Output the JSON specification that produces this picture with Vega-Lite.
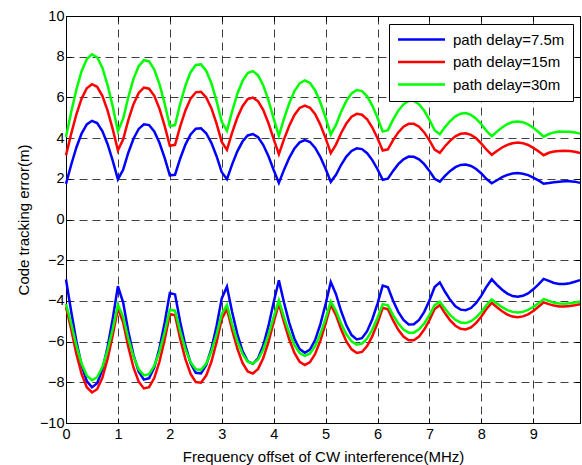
{
  "$schema": "https://vega.github.io/schema/vega-lite/v6.json",
  "width": 514,
  "height": 407,
  "autosize": "none",
  "padding": {"left": 66, "top": 16, "right": 2, "bottom": 42},
  "background": "white",
  "config": {
    "view": {"stroke": "black", "strokeWidth": 1},
    "axis": {
      "labelFont": "Liberation Sans", "labelFontSize": 14.5, "labelColor": "black", "labelFlush": false,
      "titleFont": "Liberation Sans", "titleFontSize": 15, "titleFontWeight": "normal", "titleColor": "black",
      "domainColor": "black", "tickColor": "black", "tickSize": -5,
      "gridColor": "black", "gridDash": [8, 5], "gridOpacity": 0.75, "gridWidth": 1
    },
    "axisX": {"labelPadding": 9},
    "axisY": {"labelPadding": 7},
    "legend": {"labelFont": "Liberation Sans"}
  },
  "data": {"values": [
{"x":0.0,"ub":1.75,"ur":3.15,"ug":4.05,"lb":-2.95,"lr":-4.3,"lg":-4.15},
{"x":0.1,"ub":2.69,"ur":4.21,"ug":5.28,"lb":-4.52,"lr":-5.39,"lg":-5.11},
{"x":0.2,"ub":3.54,"ur":5.17,"ug":6.39,"lb":-5.98,"lr":-6.61,"lg":-6.20},
{"x":0.3,"ub":4.22,"ur":5.94,"ug":7.29,"lb":-7.16,"lr":-7.59,"lg":-7.08},
{"x":0.4,"ub":4.67,"ur":6.45,"ug":7.88,"lb":-7.94,"lr":-8.24,"lg":-7.67},
{"x":0.5,"ub":4.85,"ur":6.65,"ug":8.12,"lb":-8.25,"lr":-8.50,"lg":-7.90},
{"x":0.6,"ub":4.74,"ur":6.52,"ug":7.97,"lb":-8.05,"lr":-8.34,"lg":-7.75},
{"x":0.7,"ub":4.35,"ur":6.08,"ug":7.46,"lb":-7.38,"lr":-7.78,"lg":-7.25},
{"x":0.8,"ub":3.71,"ur":5.36,"ug":6.62,"lb":-6.28,"lr":-6.86,"lg":-6.43},
{"x":0.9,"ub":2.89,"ur":4.44,"ug":5.55,"lb":-4.87,"lr":-5.69,"lg":-5.38},
{"x":1.0,"ub":1.97,"ur":3.40,"ug":4.34,"lb":-3.28,"lr":-4.37,"lg":-4.18},
{"x":1.1,"ub":2.44,"ur":3.93,"ug":4.94,"lb":-4.07,"lr":-5.05,"lg":-4.78},
{"x":1.2,"ub":3.28,"ur":4.88,"ug":6.01,"lb":-5.49,"lr":-6.26,"lg":-5.85},
{"x":1.3,"ub":3.97,"ur":5.67,"ug":6.91,"lb":-6.66,"lr":-7.27,"lg":-6.74},
{"x":1.4,"ub":4.45,"ur":6.22,"ug":7.53,"lb":-7.48,"lr":-7.97,"lg":-7.36},
{"x":1.5,"ub":4.68,"ur":6.48,"ug":7.83,"lb":-7.87,"lr":-8.30,"lg":-7.66},
{"x":1.6,"ub":4.64,"ur":6.43,"ug":7.77,"lb":-7.80,"lr":-8.24,"lg":-7.60},
{"x":1.7,"ub":4.33,"ur":6.08,"ug":7.37,"lb":-7.27,"lr":-7.79,"lg":-7.20},
{"x":1.8,"ub":3.77,"ur":5.45,"ug":6.65,"lb":-6.33,"lr":-6.98,"lg":-6.49},
{"x":1.9,"ub":3.03,"ur":4.60,"ug":5.70,"lb":-5.07,"lr":-5.91,"lg":-5.54},
{"x":2.0,"ub":2.17,"ur":3.62,"ug":4.59,"lb":-3.61,"lr":-4.65,"lg":-4.43},
{"x":2.1,"ub":2.20,"ur":3.67,"ug":4.64,"lb":-3.68,"lr":-4.71,"lg":-4.48},
{"x":2.2,"ub":3.00,"ur":4.58,"ug":5.69,"lb":-5.04,"lr":-5.87,"lg":-5.50},
{"x":2.3,"ub":3.68,"ur":5.36,"ug":6.58,"lb":-6.20,"lr":-6.86,"lg":-6.37},
{"x":2.4,"ub":4.18,"ur":5.94,"ug":7.24,"lb":-7.06,"lr":-7.59,"lg":-7.02},
{"x":2.5,"ub":4.46,"ur":6.25,"ug":7.59,"lb":-7.53,"lr":-7.99,"lg":-7.36},
{"x":2.6,"ub":4.48,"ur":6.28,"ug":7.62,"lb":-7.56,"lr":-8.02,"lg":-7.39},
{"x":2.7,"ub":4.24,"ur":6.00,"ug":7.31,"lb":-7.16,"lr":-7.67,"lg":-7.09},
{"x":2.8,"ub":3.77,"ur":5.47,"ug":6.70,"lb":-6.36,"lr":-6.99,"lg":-6.49},
{"x":2.9,"ub":3.11,"ur":4.71,"ug":5.83,"lb":-5.23,"lr":-6.03,"lg":-5.64},
{"x":3.0,"ub":2.32,"ur":3.81,"ug":4.80,"lb":-3.88,"lr":-4.89,"lg":-4.64},
{"x":3.1,"ub":1.98,"ur":3.42,"ug":4.36,"lb":-3.30,"lr":-4.39,"lg":-4.20},
{"x":3.2,"ub":2.71,"ur":4.27,"ug":5.32,"lb":-4.55,"lr":-5.43,"lg":-5.15},
{"x":3.3,"ub":3.35,"ur":5.01,"ug":6.17,"lb":-5.63,"lr":-6.35,"lg":-5.98},
{"x":3.4,"ub":3.83,"ur":5.57,"ug":6.81,"lb":-6.47,"lr":-7.05,"lg":-6.61},
{"x":3.5,"ub":4.13,"ur":5.92,"ug":7.20,"lb":-6.97,"lr":-7.47,"lg":-6.99},
{"x":3.6,"ub":4.20,"ur":5.99,"ug":7.29,"lb":-7.09,"lr":-7.57,"lg":-7.08},
{"x":3.7,"ub":4.04,"ur":5.81,"ug":7.08,"lb":-6.82,"lr":-7.34,"lg":-6.88},
{"x":3.8,"ub":3.66,"ur":5.38,"ug":6.59,"lb":-6.18,"lr":-6.81,"lg":-6.39},
{"x":3.9,"ub":3.11,"ur":4.73,"ug":5.85,"lb":-5.23,"lr":-6.01,"lg":-5.67},
{"x":4.0,"ub":2.43,"ur":3.95,"ug":4.96,"lb":-4.07,"lr":-5.04,"lg":-4.79},
{"x":4.1,"ub":1.80,"ur":3.21,"ug":4.12,"lb":-2.99,"lr":-4.13,"lg":-3.97},
{"x":4.2,"ub":2.45,"ur":3.95,"ug":4.96,"lb":-4.09,"lr":-5.06,"lg":-4.81},
{"x":4.3,"ub":3.03,"ur":4.61,"ug":5.71,"lb":-5.08,"lr":-5.90,"lg":-5.57},
{"x":4.4,"ub":3.49,"ur":5.14,"ug":6.31,"lb":-5.86,"lr":-6.56,"lg":-6.17},
{"x":4.5,"ub":3.79,"ur":5.48,"ug":6.69,"lb":-6.37,"lr":-7.00,"lg":-6.56},
{"x":4.6,"ub":3.90,"ur":5.60,"ug":6.83,"lb":-6.55,"lr":-7.15,"lg":-6.70},
{"x":4.7,"ub":3.81,"ur":5.49,"ug":6.71,"lb":-6.39,"lr":-7.01,"lg":-6.58},
{"x":4.8,"ub":3.52,"ur":5.17,"ug":6.34,"lb":-5.91,"lr":-6.60,"lg":-6.21},
{"x":4.9,"ub":3.07,"ur":4.65,"ug":5.75,"lb":-5.14,"lr":-5.95,"lg":-5.62},
{"x":5.0,"ub":2.49,"ur":4.00,"ug":5.01,"lb":-4.16,"lr":-5.12,"lg":-4.87},
{"x":5.1,"ub":1.85,"ur":3.26,"ug":4.18,"lb":-3.07,"lr":-4.19,"lg":-4.03},
{"x":5.2,"ub":2.20,"ur":3.68,"ug":4.65,"lb":-3.67,"lr":-4.70,"lg":-4.48},
{"x":5.3,"ub":2.69,"ur":4.25,"ug":5.30,"lb":-4.51,"lr":-5.41,"lg":-5.12},
{"x":5.4,"ub":3.09,"ur":4.72,"ug":5.83,"lb":-5.20,"lr":-5.99,"lg":-5.64},
{"x":5.5,"ub":3.37,"ur":5.05,"ug":6.20,"lb":-5.68,"lr":-6.38,"lg":-5.99},
{"x":5.6,"ub":3.50,"ur":5.19,"ug":6.36,"lb":-5.89,"lr":-6.56,"lg":-6.15},
{"x":5.7,"ub":3.46,"ur":5.15,"ug":6.31,"lb":-5.83,"lr":-6.51,"lg":-6.10},
{"x":5.8,"ub":3.26,"ur":4.92,"ug":6.05,"lb":-5.49,"lr":-6.22,"lg":-5.85},
{"x":5.9,"ub":2.92,"ur":4.52,"ug":5.60,"lb":-4.90,"lr":-5.73,"lg":-5.41},
{"x":6.0,"ub":2.47,"ur":3.99,"ug":5.00,"lb":-4.13,"lr":-5.09,"lg":-4.83},
{"x":6.1,"ub":1.95,"ur":3.39,"ug":4.32,"lb":-3.25,"lr":-4.34,"lg":-4.16},
{"x":6.2,"ub":2.01,"ur":3.45,"ug":4.39,"lb":-3.33,"lr":-4.41,"lg":-4.22},
{"x":6.3,"ub":2.39,"ur":3.90,"ug":4.91,"lb":-3.99,"lr":-4.96,"lg":-4.70},
{"x":6.4,"ub":2.72,"ur":4.28,"ug":5.35,"lb":-4.54,"lr":-5.42,"lg":-5.11},
{"x":6.5,"ub":2.96,"ur":4.56,"ug":5.66,"lb":-4.94,"lr":-5.75,"lg":-5.41},
{"x":6.6,"ub":3.09,"ur":4.70,"ug":5.83,"lb":-5.16,"lr":-5.93,"lg":-5.56},
{"x":6.7,"ub":3.08,"ur":4.70,"ug":5.83,"lb":-5.15,"lr":-5.93,"lg":-5.56},
{"x":6.8,"ub":2.96,"ur":4.56,"ug":5.66,"lb":-4.94,"lr":-5.75,"lg":-5.40},
{"x":6.9,"ub":2.72,"ur":4.28,"ug":5.34,"lb":-4.54,"lr":-5.41,"lg":-5.11},
{"x":7.0,"ub":2.39,"ur":3.89,"ug":4.90,"lb":-3.98,"lr":-4.95,"lg":-4.70},
{"x":7.1,"ub":2.00,"ur":3.44,"ug":4.39,"lb":-3.32,"lr":-4.40,"lg":-4.21},
{"x":7.2,"ub":1.86,"ur":3.28,"ug":4.19,"lb":-3.09,"lr":-4.21,"lg":-4.04},
{"x":7.3,"ub":2.14,"ur":3.60,"ug":4.54,"lb":-3.55,"lr":-4.61,"lg":-4.39},
{"x":7.4,"ub":2.39,"ur":3.88,"ug":4.84,"lb":-3.95,"lr":-4.96,"lg":-4.70},
{"x":7.5,"ub":2.57,"ur":4.09,"ug":5.07,"lb":-4.26,"lr":-5.22,"lg":-4.93},
{"x":7.6,"ub":2.68,"ur":4.21,"ug":5.20,"lb":-4.43,"lr":-5.37,"lg":-5.06},
{"x":7.7,"ub":2.70,"ur":4.24,"ug":5.23,"lb":-4.46,"lr":-5.40,"lg":-5.09},
{"x":7.8,"ub":2.63,"ur":4.16,"ug":5.14,"lb":-4.35,"lr":-5.30,"lg":-5.00},
{"x":7.9,"ub":2.48,"ur":3.99,"ug":4.95,"lb":-4.10,"lr":-5.08,"lg":-4.81},
{"x":8.0,"ub":2.26,"ur":3.73,"ug":4.68,"lb":-3.74,"lr":-4.77,"lg":-4.54},
{"x":8.1,"ub":1.99,"ur":3.43,"ug":4.35,"lb":-3.30,"lr":-4.39,"lg":-4.20},
{"x":8.2,"ub":1.78,"ur":3.18,"ug":4.09,"lb":-2.94,"lr":-4.09,"lg":-3.93},
{"x":8.3,"ub":1.93,"ur":3.37,"ug":4.32,"lb":-3.21,"lr":-4.31,"lg":-4.13},
{"x":8.4,"ub":2.08,"ur":3.54,"ug":4.52,"lb":-3.45,"lr":-4.51,"lg":-4.31},
{"x":8.5,"ub":2.19,"ur":3.67,"ug":4.69,"lb":-3.64,"lr":-4.67,"lg":-4.45},
{"x":8.6,"ub":2.26,"ur":3.75,"ug":4.79,"lb":-3.76,"lr":-4.77,"lg":-4.54},
{"x":8.7,"ub":2.28,"ur":3.78,"ug":4.82,"lb":-3.80,"lr":-4.80,"lg":-4.57},
{"x":8.8,"ub":2.25,"ur":3.75,"ug":4.78,"lb":-3.75,"lr":-4.76,"lg":-4.54},
{"x":8.9,"ub":2.18,"ur":3.66,"ug":4.67,"lb":-3.63,"lr":-4.66,"lg":-4.44},
{"x":9.0,"ub":2.06,"ur":3.52,"ug":4.51,"lb":-3.43,"lr":-4.50,"lg":-4.30},
{"x":9.1,"ub":1.92,"ur":3.35,"ug":4.30,"lb":-3.19,"lr":-4.29,"lg":-4.12},
{"x":9.2,"ub":1.76,"ur":3.16,"ug":4.07,"lb":-2.92,"lr":-4.07,"lg":-3.91},
{"x":9.3,"ub":1.79,"ur":3.28,"ug":4.20,"lb":-3.02,"lr":-4.16,"lg":-4.00},
{"x":9.4,"ub":1.83,"ur":3.34,"ug":4.28,"lb":-3.12,"lr":-4.23,"lg":-4.09},
{"x":9.5,"ub":1.86,"ur":3.37,"ug":4.32,"lb":-3.17,"lr":-4.27,"lg":-4.13},
{"x":9.6,"ub":1.88,"ur":3.38,"ug":4.31,"lb":-3.17,"lr":-4.27,"lg":-4.14},
{"x":9.7,"ub":1.88,"ur":3.37,"ug":4.31,"lb":-3.13,"lr":-4.25,"lg":-4.12},
{"x":9.8,"ub":1.86,"ur":3.33,"ug":4.27,"lb":-3.06,"lr":-4.21,"lg":-4.08},
{"x":9.9,"ub":1.80,"ur":3.27,"ug":4.22,"lb":-2.98,"lr":-4.16,"lg":-4.03}
  ]},
  "layer": [
    {
      "encoding": {
        "x": {"field": "x", "type": "quantitative",
              "scale": {"domain": [0, 9.9], "nice": false, "zero": false},
              "axis": {"values": [0,1,2,3,4,5,6,7,8,9], "title": "Frequency offset of CW interference(MHz)",
                       "titleX": 257, "titleY": 38, "titleBaseline": "alphabetic", "titleAlign": "center"}}
      },
      "layer": [
        {"mark": {"type": "line", "strokeWidth": 2.5},
         "encoding": {
           "y": {"field": "ub", "type": "quantitative", "title": "Code tracking error(m)",
                 "scale": {"domain": [-10, 10], "nice": false},
                 "axis": {"values": [-10,-8,-6,-4,-2,0,2,4,6,8,10], "titleX": -38, "titleY": 203.5,
                          "titleAngle": -90, "titleBaseline": "alphabetic", "titleAlign": "center"}},
           "color": {"datum": "path delay=7.5m", "type": "nominal",
                     "scale": {"domain": ["path delay=7.5m", "path delay=15m", "path delay=30m"],
                               "range": ["#0000ff", "#ff0000", "#00ff00"]},
                     "legend": {"orient": "none", "legendX": 323, "legendY": 8, "title": null,
                                "symbolType": "M-4.7,0H4.7", "symbolSize": 100, "symbolStrokeWidth": 2.5,
                                "symbolOffset": 17, "labelOffset": 24, "labelFontSize": 15, "labelColor": "black",
                                "strokeColor": "black", "fillColor": "white", "padding": 8, "rowPadding": 6.5}}
         }},
        {"mark": {"type": "line", "strokeWidth": 2.5},
         "encoding": {"y": {"field": "ur", "type": "quantitative", "title": "Code tracking error(m)"},
                      "color": {"datum": "path delay=15m", "type": "nominal"}}},
        {"mark": {"type": "line", "strokeWidth": 2.5},
         "encoding": {"y": {"field": "ug", "type": "quantitative", "title": "Code tracking error(m)"},
                      "color": {"datum": "path delay=30m", "type": "nominal"}}},
        {"mark": {"type": "line", "strokeWidth": 2.5},
         "encoding": {"y": {"field": "lb", "type": "quantitative", "title": "Code tracking error(m)"},
                      "color": {"datum": "path delay=7.5m", "type": "nominal"}}},
        {"mark": {"type": "line", "strokeWidth": 2.5},
         "encoding": {"y": {"field": "lr", "type": "quantitative", "title": "Code tracking error(m)"},
                      "color": {"datum": "path delay=15m", "type": "nominal"}}},
        {"mark": {"type": "line", "strokeWidth": 2.5},
         "encoding": {"y": {"field": "lg", "type": "quantitative", "title": "Code tracking error(m)"},
                      "color": {"datum": "path delay=30m", "type": "nominal"}}}
      ]
    },
    {
      "mark": {"type": "line", "opacity": 0},
      "encoding": {
        "x": {"field": "x", "type": "quantitative",
              "axis": {"orient": "top", "values": [0,1,2,3,4,5,6,7,8,9], "labels": false, "title": null, "grid": false, "domain": false}},
        "y": {"field": "ub", "type": "quantitative",
              "axis": {"orient": "right", "values": [-10,-8,-6,-4,-2,0,2,4,6,8,10], "labels": false, "title": null, "grid": false, "domain": false}}
      }
    }
  ],
  "resolve": {"axis": {"x": "independent", "y": "independent"}}
}
